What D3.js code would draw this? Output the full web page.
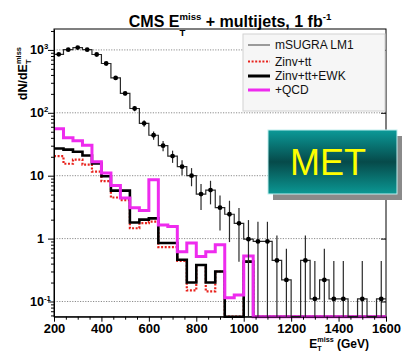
<!DOCTYPE html>
<html>
<head>
<meta charset="utf-8">
<script src="https://cdn.jsdelivr.net/npm/d3@7"></script>
<style>
  html, body { margin: 0; padding: 0; background: #fff; }
  svg { display: block; font-family: "Liberation Sans", Arial, Helvetica, sans-serif; }
</style>
</head>
<body>
<svg id="chart" width="404" height="352"></svg>
<script>
// E_T^miss bin edges (GeV), 40 GeV bins
const binEdges = [200,240,280,320,360,400,440,480,520,560,600,640,680,720,760,800,840,880,920,960,
                  1000,1040,1080,1120,1160,1200,1240,1280,1320,1360,1400,1440,1480,1520,1560,1600];

// mSUGRA LM1 signal, dN/dE_T^miss per bin, and its statistical errors
const lm1 = [850,1010,1090,1010,845,608,359,203,117,68,44,30,20.5,13.9,10,5.1,5.9,3.1,2.44,1.75,
             0.98,0.9,0.9,0.45,0.22,0,0.45,0.11,0.22,0.11,0.11,0,0.11,0,0.11];
const lm1Err = [29,32,33,32,29,25,19,14,11,8.2,6.6,5.5,4.5,3.7,3.2,2.25,2.4,1.76,1.56,1.32,
                0.99,0.95,0.95,0.67,0.47,0,0.67,0.33,0.47,0.33,0.33,0,0.33,0,0.33];

// Stacked backgrounds
const zinvTt    = [20.5,15.5,18,15,11.6,8.2,4.5,4.1,1.46,1.76,1.86,0.73,0.73,0.44,0.15,0.38,0.145,0.3,0,0,
                   0.43,0,0,0,0,0,0,0,0,0,0,0,0,0,0];
const zinvTtEwk = [27,26,24,21,15.7,9.8,5.8,5.8,1.8,2.0,2.1,0.85,0.85,0.46,0.2,0.38,0.2,0.3,0,0,
                   0.43,0,0,0,0,0,0,0,0,0,0,0,0,0,0];
const plusQcd   = [56,40,36,30.5,16.7,11,7,4.4,3.1,2.8,8.6,1.65,1.55,0.62,0.85,0.52,0.62,0.8,0.115,0.127,
                   0.53,0,0,0,0,0,0,0,0,0,0,0,0,0,0];

// Axis ticks
const xTickLabels = [200,400,600,800,1000,1200,1400,1600];
const xMinorTicks = [250,300,350,450,500,550,650,700,750,850,900,950,1050,1100,1150,1250,1300,1350,1450,1500,1550];
const yDecades = [0.1,1,10,100,1000];
const yDecadeExp = ["-1","0","1","2","3"];
const legendLabels = ["mSUGRA LM1","Zinv+tt","Zinv+tt+EWK","+QCD"];

const svg = d3.select("#chart");
const plot = {left: 54, right: 386, top: 29, bottom: 316.7};

const x = d3.scaleLinear().domain([200,1600]).range([plot.left, plot.right]);
const y = d3.scaleLog().domain([0.0573, 2150]).range([plot.bottom, plot.top]);
const yMin = y.domain()[0];
const yc = v => y(Math.max(v, yMin));

// helper: text with sub/superscripts laid out sequentially
function mathText(parent, parts, o) {
  const g = parent.append("g");
  const inner = g.append("g");
  const size = o.size, weight = o.weight || "normal";
  const sc = o.scriptScale || 0.62;
  let cx = 0;
  parts.forEach(p => {
    if (p.t !== undefined) {
      const t = inner.append("text").attr("x", cx).attr("y", 0)
        .attr("font-size", size).attr("font-weight", weight)
        .attr("fill", o.fill || "#000").style("white-space", "pre").text(p.t);
      cx += t.node().getComputedTextLength();
    } else {
      let w = 0;
      if (p.sup) {
        const s = inner.append("text").attr("x", cx).attr("y", -size * (o.supShift || 0.4))
          .attr("font-size", size * sc).attr("font-weight", weight).attr("fill", o.fill || "#000").text(p.sup);
        w = Math.max(w, s.node().getComputedTextLength());
      }
      if (p.sub) {
        const s = inner.append("text").attr("x", cx).attr("y", size * (o.subShift || 0.55))
          .attr("font-size", size * sc).attr("font-weight", weight).attr("fill", o.fill || "#000").text(p.sub);
        w = Math.max(w, s.node().getComputedTextLength());
      }
      cx += w;
    }
  });
  const shift = o.anchor === "end" ? -cx : o.anchor === "middle" ? -cx / 2 : 0;
  inner.attr("transform", `translate(${shift},0)`);
  g.attr("transform", `translate(${o.x},${o.y})` + (o.rotate ? ` rotate(${o.rotate})` : ""));
  return g;
}

// horizontal dotted grid at each decade
svg.append("g").selectAll("line").data(yDecades).join("line")
  .attr("x1", plot.left).attr("x2", plot.right)
  .attr("y1", d => y(d)).attr("y2", d => y(d))
  .attr("stroke", "#8c8c8c").attr("stroke-width", 1).attr("stroke-dasharray", "1.2,1.4");

// frame
svg.append("rect").attr("x", plot.left).attr("y", plot.top)
  .attr("width", plot.right - plot.left).attr("height", plot.bottom - plot.top)
  .attr("fill", "none").attr("stroke", "#000").attr("stroke-width", 1);

// step-histogram path
const stepLine = d3.line().x(d => x(d[0])).y(d => yc(d[1])).curve(d3.curveStepAfter);
function histPoints(vals) {
  const pts = vals.map((v, i) => [binEdges[i], v]);
  pts.push([binEdges[binEdges.length - 1], vals[vals.length - 1]]);
  return pts;
}

const hg = svg.append("g");
hg.append("path").attr("d", stepLine(histPoints(zinvTt)))
  .attr("fill", "none").attr("stroke", "#e8221c").attr("stroke-width", 2.2).attr("stroke-dasharray", "2,1.6");
hg.append("path").attr("d", stepLine(histPoints(zinvTtEwk)))
  .attr("fill", "none").attr("stroke", "#000").attr("stroke-width", 2.6);
hg.append("path").attr("d", stepLine(histPoints(plusQcd)))
  .attr("fill", "none").attr("stroke", "#ee2bee").attr("stroke-width", 3);

// signal: histogram line, error bars, markers
hg.append("path").attr("d", stepLine(histPoints(lm1)))
  .attr("fill", "none").attr("stroke", "#2a2a2a").attr("stroke-width", 1.2);
const sig = lm1.map((v, i) => ({c: (binEdges[i] + binEdges[i + 1]) / 2, v, e: lm1Err[i]})).filter(d => d.v > 0);
hg.append("g").selectAll("line").data(sig).join("line")
  .attr("x1", d => x(d.c)).attr("x2", d => x(d.c))
  .attr("y1", d => yc(d.v - d.e)).attr("y2", d => yc(d.v + d.e))
  .attr("stroke", "#2a2a2a").attr("stroke-width", 1.2);
hg.append("g").selectAll("circle").data(sig).join("circle")
  .attr("cx", d => x(d.c)).attr("cy", d => y(d.v)).attr("r", 2.4).attr("fill", "#000");

// x axis
const xAxis = svg.append("g").attr("transform", `translate(0,${plot.bottom})`)
  .call(d3.axisBottom(x).tickValues(xTickLabels).tickSize(5).tickSizeOuter(0).tickPadding(2.5).tickFormat(d3.format("d")));
xAxis.selectAll("text").attr("font-size", 13).attr("font-weight", "bold").attr("fill", "#000")
  .style("font-family", "'Liberation Sans', Arial, sans-serif");
svg.append("g").attr("transform", `translate(0,${plot.bottom})`)
  .call(d3.axisBottom(x).tickValues(xMinorTicks).tickSize(3).tickSizeOuter(0).tickFormat(""))
  .select(".domain").remove();

// y axis
const minorY = [];
[0.01, 0.1, 1, 10, 100, 1000].forEach(dec => {
  for (let k = 2; k <= 9; k++) { const v = k * dec; if (v >= yMin && v <= y.domain()[1]) minorY.push(v); }
});
svg.append("g").attr("transform", `translate(${plot.left},0)`)
  .call(d3.axisLeft(y).tickValues(yDecades).tickSize(6).tickSizeOuter(0).tickFormat(""));
svg.append("g").attr("transform", `translate(${plot.left},0)`)
  .call(d3.axisLeft(y).tickValues(minorY).tickSize(3).tickSizeOuter(0).tickFormat(""))
  .select(".domain").remove();
// right-side decade ticks
svg.append("g").attr("transform", `translate(${plot.right},0)`)
  .call(d3.axisRight(y).tickValues(yDecades).tickSize(-5).tickSizeOuter(0).tickFormat(""))
  .select(".domain").remove();

// y tick labels, mantissa right-aligned at x = 44
yDecades.forEach((d, i) => {
  const e = yDecadeExp[i];
  let parts;
  if (e === "0") parts = [{t: "1"}];
  else if (e === "1") parts = [{t: "10"}];
  else parts = [{t: "10"}, {sup: e}];
  const lab = mathText(svg, parts, {x: 0, y: 0, size: 12.5, weight: "bold", anchor: "start", supShift: 0.38, scriptScale: 0.62});
  const first = lab.select("text").node().getComputedTextLength();
  lab.attr("transform", `translate(${44 - first},${y(d) + 4.3})`);
});

// axis titles
mathText(svg, [{t: "E"}, {sub: "T", sup: "miss"}, {t: " (GeV)"}],
  {x: 369, y: 347.5, size: 12, weight: "bold", anchor: "end", scriptScale: 0.6, supShift: 0.45, subShift: 0.3});
mathText(svg, [{t: "dN/dE"}, {sub: "T", sup: "miss"}],
  {x: 27, y: 47, size: 12.5, weight: "bold", anchor: "end", rotate: -90, scriptScale: 0.6, supShift: 0.45, subShift: 0.35});

// title
mathText(svg, [{t: "CMS E"}, {sub: "T", sup: "miss"}, {t: " + multijets, 1 fb"}, {sup: "-1"}],
  {x: 230, y: 26.5, size: 16, weight: "bold", anchor: "middle", scriptScale: 0.6, supShift: 0.4, subShift: 0.6});

// legend
const leg = svg.append("g");
leg.append("rect").attr("x", 243).attr("y", 34).attr("width", 142).attr("height", 77)
  .attr("fill", "#f6f6f6").attr("stroke", "#d2d2d2").attr("stroke-width", 1);
const legStyles = [
  {stroke: "#9a9a9a", w: 2, dash: null},
  {stroke: "#e8221c", w: 2.2, dash: "2,1.6"},
  {stroke: "#000", w: 3, dash: null},
  {stroke: "#ee2bee", w: 3, dash: null}
];
const legRows = [45, 61.5, 76, 90];
legendLabels.forEach((lab, i) => {
  const s = legStyles[i];
  const ln = leg.append("line").attr("x1", 248).attr("x2", 270).attr("y1", legRows[i]).attr("y2", legRows[i])
    .attr("stroke", s.stroke).attr("stroke-width", s.w);
  if (s.dash) ln.attr("stroke-dasharray", s.dash);
  leg.append("text").attr("x", 275).attr("y", legRows[i] + 4.3).attr("font-size", 12).attr("fill", "#111").text(lab);
});

// MET label box with drop shadow
const defs = svg.append("defs");
const grad = defs.append("linearGradient").attr("id", "metGrad").attr("x1", 0).attr("y1", 0).attr("x2", 0).attr("y2", 1);
grad.append("stop").attr("offset", "0%").attr("stop-color", "#0b9a98");
grad.append("stop").attr("offset", "50%").attr("stop-color", "#064a4a");
grad.append("stop").attr("offset", "100%").attr("stop-color", "#0b9894");
svg.append("rect").attr("x", 273).attr("y", 136).attr("width", 129).attr("height", 64).attr("fill", "#8a8a8a");
svg.append("rect").attr("x", 268).attr("y", 130).attr("width", 129).attr("height", 64)
  .attr("fill", "url(#metGrad)").attr("stroke", "#bfeeee").attr("stroke-width", 1);
svg.append("text").attr("x", 328).attr("y", 175).attr("text-anchor", "middle")
  .attr("font-size", 36).attr("fill", "#ffff00").text("MET");
</script>
</body>
</html>
